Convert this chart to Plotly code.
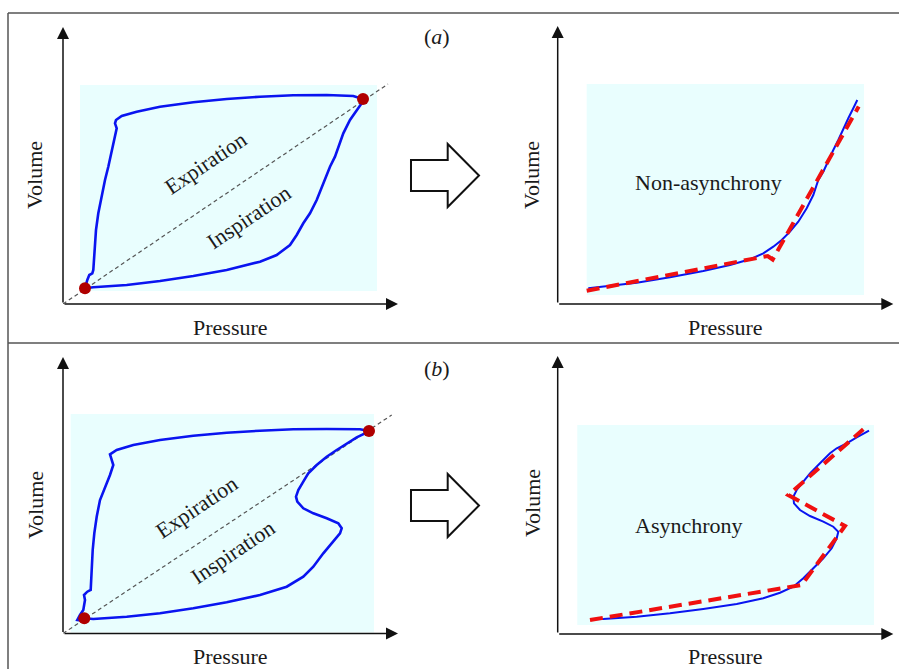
import plotly.graph_objects as go

W, H = 899, 669

# ---------------- data (pressure, volume in arbitrary units) ----------------
# (a) left: PV loop without asynchrony
a_exp_p = [299.7, 290.3, 263.7, 230.3, 197, 163.7, 130.3, 97, 73.7, 58.7, 53, 52, 53.7, 52,
           48.7, 45.3, 42, 38.7, 35.3, 33, 32, 31.3, 30.3, 29.3, 26.3, 24.3, 23, 22]
a_exp_v = [205, 208, 209, 208.7, 207.3, 205, 201.7, 197.3, 192.3, 188, 184, 180.7, 175.7, 167.3,
           150.7, 137.3, 124, 107.3, 90.7, 74, 57.3, 44, 34, 30.7, 29, 24, 19, 15.7]
a_ins_p = [22, 30.3, 63.7, 97, 130.3, 163.7, 197, 213.7, 227, 233.7, 240.3, 247, 253.7, 260.3,
           263.7, 267, 272, 275.3, 280.3, 287, 293.7, 298.7, 299.7]
a_ins_v = [15.7, 16.7, 19, 23, 28, 34, 42.3, 49, 59, 69, 80.7, 90.7, 104, 120.7,
           127.3, 137.3, 147.3, 157.3, 170.7, 184, 194, 200.7, 205]
a_ends_p = [22, 300]
a_ends_v = [15.7, 205]
a_diag_p = [0, 325]
a_diag_v = [0, 220]

# (a) right: inspiratory limb and its piecewise-linear fit
a_insp_p = [30.6, 45.6, 79, 112.3, 145.6, 172.3, 192.3, 205.6, 215.6, 224, 232.3, 240.6, 249,
            255.6, 260.6, 265.6, 270.6, 275.6, 280.6, 285.6, 290.6, 295.6, 299.6]
a_insp_v = [15.7, 17.3, 21.3, 26.7, 33, 39, 44.7, 50.7, 57.3, 64, 72.3, 82.3, 95.7,
            109, 124, 132.3, 144, 154, 164, 175.7, 185.7, 195.7, 204]
a_fit_p = [29, 210, 215, 301]
a_fit_v = [13.3, 48, 44.5, 197.5]

# (b) left: PV loop with asynchrony
b_exp_p = [306, 297, 263.7, 230.3, 197, 163.7, 130.3, 97, 70.3, 53.7, 47, 48.7, 50.3, 47, 42, 37,
           33.7, 31.3, 29.7, 28.7, 28, 27.7, 24.3, 21, 22, 21, 20.3, 17, 14.3, 18.7, 21.3]
b_exp_v = [202.5, 204.2, 204.5, 204.2, 202.8, 200.8, 197.8, 193.5, 188.5, 183.5, 179.2, 173.5,
           168.5, 158.5, 146.8, 133.5, 116.8, 100.2, 83.5, 66.8, 50.2, 43.5, 41.8, 38.5, 33.5,
           28.5, 23.5, 18.5, 13.5, 12.8, 15.2]
b_ins_p = [21.3, 30.3, 63.7, 97, 130.3, 163.7, 197, 223.7, 240.3, 250.3, 260.3, 270.3, 277,
           278.7, 275.3, 263.7, 250.3, 240.3, 234.3, 233, 235.3, 240.3, 245.3, 253.7, 263.7,
           273.7, 283.7, 293.7, 302, 306]
b_ins_v = [15.2, 14.5, 16.8, 20.2, 25.2, 31.2, 38.5, 46.8, 56.8, 66.8, 80.2, 91.8, 100.2,
           105.2, 110.2, 115.2, 120.2, 125.2, 131.8, 136.8, 143.5, 151.8, 160.2, 168.5, 176.8,
           183.5, 190.2, 196.2, 200.2, 202.5]
b_ends_p = [21.3, 306]
b_ends_v = [15.2, 202.5]
b_diag_p = [0, 328.7]
b_diag_v = [0, 218.5]

# (b) right: inspiratory limb and its piecewise-linear fit
b_insp_p = [34, 45.6, 79, 112.3, 145.6, 179, 205.6, 222.3, 235.6, 245.6, 255.6, 265.6, 274, 279,
            280.6, 275.6, 265.6, 252.3, 242.3, 236.3, 235.6, 239, 245.6, 252.3, 262.3, 272.3,
            279, 289, 299, 311.3]
b_insp_v = [14.7, 15, 17.3, 20.7, 25, 30, 35.7, 41.3, 47.3, 55.7, 65.7, 75.7, 85.7, 95.7,
            102.3, 107.3, 112.3, 118, 124, 130.7, 137.3, 144, 152.3, 160.7, 170.7, 180.7,
            185.7, 190.7, 196.7, 203.3]
b_fit_p = [32.3, 244, 287.3, 230.6, 305.6]
b_fit_v = [14, 49, 108, 139, 204.7]

# ---------------- styling ----------------
FONT = "'Liberation Serif', 'Times New Roman', Times, 'DejaVu Serif', serif"
TXT = "#1a1a1a"
BLUE = "#0a14f0"
RED = "#f01010"
DOT = "#b00000"
SHADE = "#e9fefe"


def px(x):
    return x / W


def py(y):
    return 1 - y / H


# panel geometry: axis origin / arrow tips, in page pixels
panels = {
    "a_l": dict(x0=63, x1=398, y0=304, y1=27, ax="x", ay="y",
                shade=(17, 314, 13, 219)),
    "a_r": dict(x0=557.7, x1=893.3, y0=304, y1=26, ax="x2", ay="y2",
                shade=(29, 306.3, 9, 220)),
    "b_l": dict(x0=63, x1=398, y0=633.5, y1=357, ax="x3", ay="y3",
                shade=(7.7, 311, 1, 219.5)),
    "b_r": dict(x0=557.7, x1=893.3, y0=634, y1=356, ax="x4", ay="y4",
                shade=(19.6, 316.3, 9, 209)),
}

fig = go.Figure()
layout_axes = {}
shapes = []
annotations = []

for i, (key, p) in enumerate(panels.items()):
    n = "" if i == 0 else str(i + 1)
    xr = p["x1"] - p["x0"]
    yr = p["y0"] - p["y1"]
    layout_axes["xaxis" + n] = dict(domain=[px(p["x0"]), px(p["x1"])], range=[0, xr],
                                    visible=False, anchor=p["ay"], fixedrange=True)
    layout_axes["yaxis" + n] = dict(domain=[py(p["y0"]), py(p["y1"])], range=[0, yr],
                                    visible=False, anchor=p["ax"], fixedrange=True)
    s = p["shade"]
    shapes.append(dict(type="rect", xref=p["ax"], yref=p["ay"], x0=s[0], x1=s[1],
                       y0=s[2], y1=s[3], fillcolor=SHADE, line=dict(width=0), layer="below"))
    # axes with arrow heads
    for tip in ((xr, 0), (0, yr)):
        annotations.append(dict(x=tip[0], y=tip[1], ax=0, ay=0, xref=p["ax"], yref=p["ay"],
                                axref=p["ax"], ayref=p["ay"], text="", showarrow=True,
                                arrowhead=2, arrowsize=1.6, arrowwidth=1.5,
                                arrowcolor="#111"))


def line(x, y, xa, ya, color, width, dash="solid"):
    fig.add_trace(go.Scatter(x=x, y=y, xaxis=xa, yaxis=ya, mode="lines",
                             line=dict(color=color, width=width, dash=dash),
                             hoverinfo="skip", showlegend=False, cliponaxis=False))


def dots(x, y, xa, ya):
    fig.add_trace(go.Scatter(x=x, y=y, xaxis=xa, yaxis=ya, mode="markers",
                             marker=dict(color=DOT, size=12, line=dict(width=0)),
                             hoverinfo="skip", showlegend=False, cliponaxis=False))


# (a)
line(a_diag_p, a_diag_v, "x", "y", "#555", 1.2, "4px,3px")
line(a_exp_p, a_exp_v, "x", "y", BLUE, 2.6)
line(a_ins_p, a_ins_v, "x", "y", BLUE, 2.6)
dots(a_ends_p, a_ends_v, "x", "y")
line(a_insp_p, a_insp_v, "x2", "y2", BLUE, 2)
line(a_fit_p, a_fit_v, "x2", "y2", RED, 4, "13px,7px")

# (b)
line(b_diag_p, b_diag_v, "x3", "y3", "#555", 1.2, "4px,3px")
line(b_exp_p, b_exp_v, "x3", "y3", BLUE, 2.6)
line(b_ins_p, b_ins_v, "x3", "y3", BLUE, 2.6)
dots(b_ends_p, b_ends_v, "x3", "y3")
line(b_insp_p, b_insp_v, "x4", "y4", BLUE, 2)
line(b_fit_p, b_fit_v, "x4", "y4", RED, 4, "13px,7px")


def label(x, y, text, angle=0, size=22):
    annotations.append(dict(x=px(x), y=py(y), xref="paper", yref="paper", text=text,
                            showarrow=False, textangle=angle, xanchor="center",
                            yanchor="middle", font=dict(family=FONT, size=size, color=TXT)))


# panel tags
label(437, 36, "(<i>a</i>)")
label(437, 368, "(<i>b</i>)")
# axis titles
for vx, vy in ((35, 175), (532, 175), (35, 505), (532, 503)):
    label(vx, vy, "Volume", angle=-90)
for tx, ty in ((230, 328), (725, 328), (230, 656), (725, 656)):
    label(tx, ty, "Pressure")
# phase / status labels
label(205, 163, "Expiration", angle=-34)
label(248, 217, "Inspiration", angle=-34)
label(196, 507, "Expiration", angle=-34)
label(232, 552, "Inspiration", angle=-34)
label(708, 182, "Non-asynchrony")
label(689, 525, "Asynchrony")


# block arrows between the columns
def block_arrow(cy):
    pts = [(411, cy - 15.5), (447.7, cy - 15.5), (447.7, cy - 31.5), (479, cy),
           (447.7, cy + 31.5), (447.7, cy + 15.5), (411, cy + 15.5)]
    path = "M " + " L ".join(f"{px(a):.5f},{py(b):.5f}" for a, b in pts) + " Z"
    shapes.append(dict(type="path", xref="paper", yref="paper", path=path,
                       line=dict(color="#111", width=2), fillcolor="white"))


block_arrow(175.5)
block_arrow(505.5)

# frame lines
frame = dict(color="#555", width=1.5)
shapes.append(dict(type="line", xref="paper", yref="paper", x0=px(8), x1=px(8),
                   y0=py(13), y1=py(H + 5), line=frame))
shapes.append(dict(type="line", xref="paper", yref="paper", x0=px(8), x1=px(W + 5),
                   y0=py(13), y1=py(13), line=frame))
shapes.append(dict(type="line", xref="paper", yref="paper", x0=px(8), x1=px(W + 5),
                   y0=py(343), y1=py(343), line=frame))

fig.update_layout(width=W, height=H, margin=dict(l=0, r=0, t=0, b=0),
                  paper_bgcolor="white", plot_bgcolor="rgba(0,0,0,0)",
                  shapes=shapes, annotations=annotations, showlegend=False,
                  **layout_axes)

fig.write_html("out.html", config=dict(displayModeBar=False))
